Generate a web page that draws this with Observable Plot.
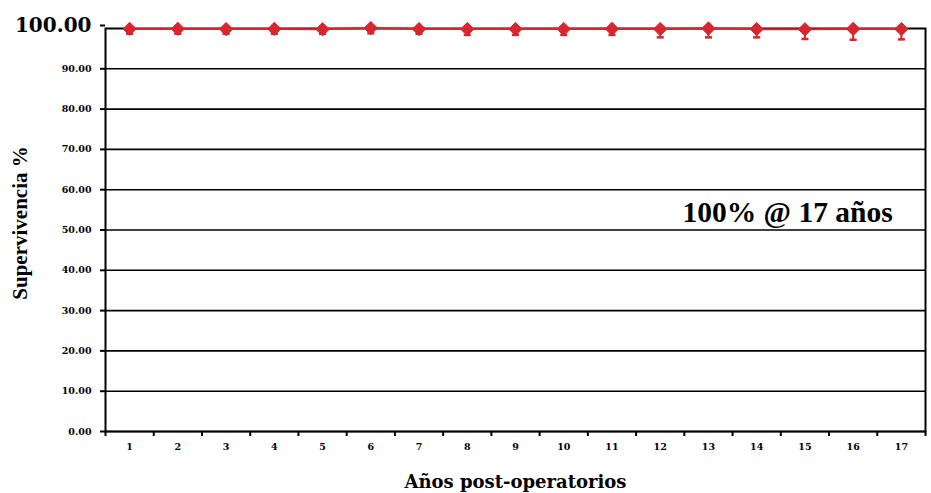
<!DOCTYPE html>
<html>
<head>
<meta charset="utf-8">
<script src="https://cdn.jsdelivr.net/npm/d3@7"></script>
<script src="https://cdn.jsdelivr.net/npm/@observablehq/plot@0.6"></script>
<style>
  html, body { margin: 0; padding: 0; background: #fff; }
  #chart { width: 931px; height: 493px; }
</style>
</head>
<body>
<div id="chart"></div>
<script>
const years = [1,2,3,4,5,6,7,8,9,10,11,12,13,14,15,16,17];
const survival = [99.9,99.9,99.85,99.9,99.8,100.1,99.85,99.85,99.85,99.85,99.9,99.85,100,99.85,99.8,99.9,99.85];
const lowerCI = [98.7,98.7,98.7,98.7,98.7,98.8,98.7,98.4,98.4,98.4,98.4,97.8,97.8,97.8,97.4,97.2,97.3];
const yTicks = [0,10,20,30,40,50,60,70,80,90];
const yTopTick = [100];
const xBoundaries = [0.5,1.5,2.5,3.5,4.5,5.5,6.5,7.5,8.5,9.5,10.5,11.5,12.5,13.5,14.5,15.5,16.5,17.5];
const annotation = [{x: 14.64, y: 54.3, text: "100% @ 17 años"}];
const yTitle = "Supervivencia %";
const xTitle = "Años post-operatorios";

const data = years.map((y, i) => ({year: y, value: survival[i], low: lowerCI[i]}));
const red = "#d6262e";

const capSymbol = {
  draw(ctx, size) {
    const w = Math.sqrt(size) / 2;
    ctx.moveTo(-w, 0);
    ctx.lineTo(w, 0);
  }
};

const fmt = d => d.toFixed(2);

const chart = Plot.plot({
  width: 931,
  height: 493,
  marginLeft: 105,
  marginRight: 6,
  marginTop: 28,
  marginBottom: 62,
  style: {background: "#fff", color: "#000"},
  x: {type: "linear", domain: [0.5, 17.5]},
  y: {domain: [0, 100]},
  marks: [
    Plot.ruleY(yTicks, {stroke: "#000", strokeWidth: 1.6}),
    Plot.frame({stroke: "#000", strokeWidth: 2}),
    Plot.axisY(yTicks, {tickSize: 5, tickPadding: 9, tickFormat: fmt, fontSize: 9.5, fontWeight: "bold", fontFamily: "DejaVu Serif", stroke: "#000", strokeWidth: 2, label: null}),
    Plot.axisY(yTopTick, {tickSize: 5, tickPadding: 9, tickFormat: fmt, fontSize: 20, fontWeight: "bold", fontFamily: "DejaVu Serif", dy: -3, strokeWidth: 2, label: null}),
    Plot.axisX(xBoundaries, {tickSize: 5, tickFormat: () => "", strokeWidth: 2, label: null}),
    Plot.axisX(years, {tickSize: 0, tickPadding: 12, fontSize: 9.5, fontWeight: "bold", fontFamily: "DejaVu Serif", label: null}),
    Plot.ruleX(data, {x: "year", y1: "value", y2: "low", stroke: red, strokeWidth: 2}),
    Plot.dot(data, {x: "year", y: "low", symbol: capSymbol, r: 4, stroke: red, strokeWidth: 2.5, fill: "none"}),
    Plot.line(data, {x: "year", y: "value", stroke: red, strokeWidth: 2}),
    Plot.dot(data, {x: "year", y: "value", symbol: "diamond2", r: 6, fill: red, stroke: red, strokeWidth: 1}),
    Plot.text(annotation, {x: "x", y: "y", text: "text", fontSize: 29.5, fontWeight: "bold", fontFamily: "Liberation Serif", fill: "#000"}),
    Plot.text([xTitle], {frameAnchor: "bottom", dy: 56, fontSize: 18, fontWeight: "bold", fontFamily: "DejaVu Serif", fill: "#000"}),
    Plot.text([yTitle], {frameAnchor: "left", textAnchor: "middle", rotate: -90, dx: -85, dy: -7, fontSize: 21, fontWeight: "bold", fontFamily: "Liberation Serif", fill: "#000"})
  ]
});

document.getElementById("chart").appendChild(chart);
</script>
</body>
</html>
